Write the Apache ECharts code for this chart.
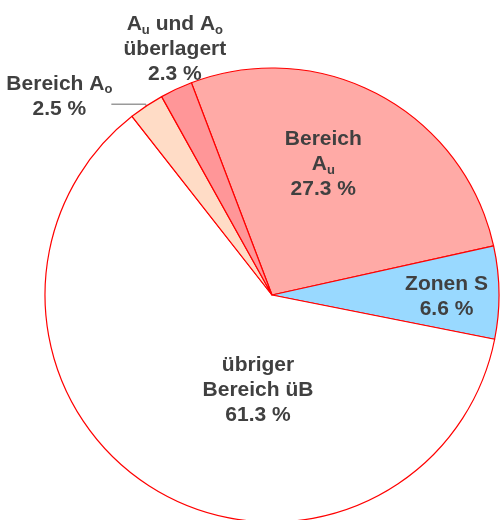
<!DOCTYPE html>
<html>
<head>
<meta charset="utf-8">
<script src="https://cdn.jsdelivr.net/npm/echarts@6/dist/echarts.min.js"></script>
<style>
    html, body { margin: 0; padding: 0; background: #fff; }
    #main { width: 500px; height: 520px; }
</style>
</head>
<body>
<div id="main"></div>
<script>
    // slices, clockwise from the top-left
    var names = ['Bereich Au', 'Zonen S', 'übriger Bereich üB', 'Bereich Ao', 'Au und Ao überlagert'];
    var values = [27.3, 6.6, 61.3, 2.5, 2.3];
    var colors = ['#FFAAA6', '#99D9FF', '#FFFFFF', '#FFDCC6', '#FF9698'];
    // label heads (rich text, s = subscript)
    var labelHeads = [
        '{t|Bereich}\n{t|A}{s|u}',
        '{t|Zonen S}',
        '{t|übriger}\n{t|Bereich üB}',
        '{t|Bereich A}{s|o}',
        '{t|A}{s|u}{t| und A}{s|o}\n{t|überlagert}'
    ];
    var labelShift = [[-4, -28], [58, 3], [47, -4], [6, -8], [-48, -140]];

    var myChart = echarts.init(document.getElementById('main'));

    var pieData = [];
    for (var i = 0; i < names.length; i++) {
        var item = {
            name: names[i],
            value: values[i],
            itemStyle: { color: colors[i] }
        };
        if (i === 3) {
            item.label = { position: 'outside' };
            item.labelLine = { show: true, length: 2, length2: 34, lineStyle: { color: '#9a9a9a', width: 1.5 } };
        }
        pieData.push(item);
    }

    var option = {
        animation: false,
        series: [{
            type: 'pie',
            center: [272, 295],
            radius: 227,
            startAngle: 110.8,
            clockwise: true,
            avoidLabelOverlap: false,
            itemStyle: { borderColor: '#FF0000', borderWidth: 1.2 },
            label: {
                show: true,
                position: 'inside',
                formatter: function (p) {
                    return labelHeads[p.dataIndex] + '\n{t|' + p.value.toFixed(1) + ' %}';
                },
                rich: {
                    t: {
                        fontFamily: 'Liberation Sans, Arial, sans-serif',
                        fontWeight: 'bold',
                        fontSize: 21,
                        lineHeight: 25,
                        color: '#404040',
                        align: 'center'
                    },
                    s: {
                        fontFamily: 'Liberation Sans, Arial, sans-serif',
                        fontWeight: 'bold',
                        fontSize: 13,
                        lineHeight: 25,
                        color: '#404040',
                        verticalAlign: 'bottom',
                        align: 'center'
                    }
                }
            },
            labelLine: { show: false },
            labelLayout: function (params) {
                var s = labelShift[params.dataIndex];
                return { dx: s[0], dy: s[1] };
            },
            data: pieData
        }]
    };
    myChart.setOption(option);
</script>
</body>
</html>
